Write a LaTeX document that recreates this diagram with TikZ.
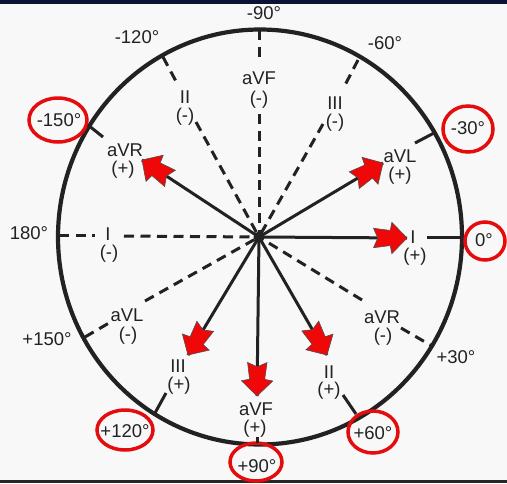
\documentclass[tikz,border=0pt]{standalone}
\usepackage{fontspec}
\setmainfont{Liberation Sans}
\usetikzlibrary{shapes.geometric}
\definecolor{ink}{RGB}{34,34,34}
\definecolor{paper}{RGB}{248,248,248}
\definecolor{navy}{RGB}{12,18,52}
\definecolor{ringred}{RGB}{228,12,12}
\definecolor{headred}{RGB}{240,8,8}
\begin{document}
\begin{tikzpicture}[x=1pt,y=-1pt,
  solidlead/.style={draw=ink, line width=3pt},
  neglead/.style={draw=ink, line width=3pt, dash pattern=on 10pt off 6.5pt},
  lbl/.style={text=ink, font=\fontsize{18.5}{21}\selectfont, inner sep=0pt},
  ringmark/.style={draw=ringred, line width=3.5pt, ellipse, inner sep=0pt},
  headshape/.style={fill=headred, draw=ink!80, line width=0.6pt, line join=miter}]
% background and frame
\fill[paper] (0,0) rectangle (507,483);
\fill[navy] (0,0) rectangle (507,3.5);
\fill[black!85] (0,479.5) rectangle (507,483);
\useasboundingbox (0,0) rectangle (507,483);

% main circle
\coordinate (O) at (260,237);
\draw[ink, line width=4.2pt] (O) ellipse [x radius=202pt, y radius=207.5pt];
\coordinate (C) at (259,237);

% ---------- degree labels ----------
\node[lbl] (dm90)  at (264,13)  {-90°};
\node[lbl] (dm120) at (137,37)  {-120°};
\node[lbl] (dm60)  at (385,43)  {-60°};
\node[lbl] (dm150) at (59,120)  {-150°};
\node[lbl] (dm30)  at (468,128) {-30°};
\node[lbl] (d0)    at (484,240) {0°};
\node[lbl] (d180)  at (29,233)  {180°};
\node[lbl] (dp150) at (47,339)  {+150°};
\node[lbl] (dp120) at (125,431) {+120°};
\node[lbl] (dp90)  at (257,466) {+90°};
\node[lbl] (dp60)  at (373,433) {+60°};
\node[lbl] (dp30)  at (456,357) {+30°};

% red rings
\node[ringmark, minimum width=58pt, minimum height=44pt] (r150) at (58,120) {};
\node[ringmark, minimum width=50pt, minimum height=46pt] (r30)  at (468,129) {};
\node[ringmark, minimum width=40pt, minimum height=38pt] (r0)   at (485,241) {};
\node[ringmark, minimum width=56pt, minimum height=40pt] (r120) at (125,430) {};
\node[ringmark, minimum width=52pt, minimum height=38pt] (r90)  at (256,462) {};
\node[ringmark, minimum width=50pt, minimum height=42pt] (r60)  at (373,432) {};

% ---------- lead labels ----------
% positive ends
\node[lbl] (Ip)    at (413,237) {I};
\node[lbl] (Ips)   at (415,257) {(+)};
\node[lbl] (aVLp)  at (400,156) {aVL};
\node[lbl] (aVLps) at (400,176) {(+)};
\node[lbl] (aVRp)  at (125,150) {aVR};
\node[lbl] (aVRps) at (123,170) {(+)};
\node[lbl] (aVFp)  at (256,409) {aVF};
\node[lbl] (aVFps) at (255,429) {(+)};
\node[lbl] (IIp)   at (329,372) {II};
\node[lbl] (IIps)  at (329,391) {(+)};
\node[lbl] (IIIp)  at (178,366) {III};
\node[lbl] (IIIps) at (179,386) {(+)};
% negative ends
\node[lbl] (Im)    at (108,234) {I};
\node[lbl] (Ims)   at (109,254) {(-)};
\node[lbl] (aVLm)  at (127,315) {aVL};
\node[lbl] (aVLms) at (128,336) {(-)};
\node[lbl] (aVRm)  at (382,317) {aVR};
\node[lbl] (aVRms) at (383,337) {(-)};
\node[lbl] (aVFm)  at (259,78)  {aVF};
\node[lbl] (aVFms) at (259,100) {(-)};
\node[lbl] (IIm)   at (185,97)  {II};
\node[lbl] (IIms)  at (185,117) {(-)};
\node[lbl] (IIIm)  at (335,103) {III};
\node[lbl] (IIIms) at (335,123) {(-)};

% ---------- tick segments at positive ends ----------
\coordinate (tIa) at (427,237);   \coordinate (tIb) at (460,237);
\coordinate (tLa) at (415,143);   \coordinate (tLb) at (434,133);
\coordinate (tRa) at (103,137);   \coordinate (tRb) at (88,125);
\coordinate (tFa) at (257,437);   \coordinate (tFb) at (257,443);
\coordinate (t2a) at (343,395);   \coordinate (t2b) at (356,414);
\coordinate (t3a) at (166,393);   \coordinate (t3b) at (155,413);
\draw[solidlead] (tIa) -- (tIb);
\draw[solidlead] (tLa) -- (tLb);
\draw[solidlead] (tRa) -- (tRb);
\draw[solidlead] (tFa) -- (tFb);
\draw[solidlead] (t2a) -- (t2b);
\draw[solidlead] (t3a) -- (t3b);

% ---------- dashed negative halves ----------
\coordinate (nIa) at (59,235);   \coordinate (nIb) at (95,235);  \coordinate (nIc) at (124,236);
\coordinate (nLa) at (85,337);   \coordinate (nLb) at (109,323); \coordinate (nLc) at (145,301);
\coordinate (nRa) at (432,346);  \coordinate (nRb) at (401,328); \coordinate (nRc) at (362,300);
\coordinate (nFa) at (259,30);   \coordinate (nFb) at (259,62);  \coordinate (nFc) at (259,114);
\coordinate (n2a) at (163,57);   \coordinate (n2b) at (178,85);  \coordinate (n2c) at (196,122);
\coordinate (n3a) at (358,60);   \coordinate (n3b) at (343,89);  \coordinate (n3c) at (323,124);
\draw[neglead] (nIa) -- (nIb);  \draw[neglead] (nIc) -- (C);
\draw[neglead] (nLa) -- (nLb);  \draw[neglead] (nLc) -- (C);
\draw[neglead] (nRb) -- (nRa);  \draw[neglead] (nRc) -- (C);
\draw[neglead] (nFa) -- (nFb);  \draw[neglead] (nFc) -- (C);
\draw[neglead] (n2a) -- (n2b);  \draw[neglead] (n2c) -- (C);
\draw[neglead] (n3a) -- (n3b);  \draw[neglead] (n3c) -- (C);

% ---------- positive arrows ----------
\coordinate (hI) at (407,238);
\coordinate (hL) at (383,163);
\coordinate (hR) at (142,160);
\coordinate (hF) at (257,396);
\coordinate (h2) at (327,355);
\coordinate (h3) at (188,355);
\foreach \h in {hI,hL,hR,hF,h2,h3}{\draw[solidlead] (C) -- (\h);}
\fill[ink] (C) circle (5.5pt);
\foreach \h/\a in {hI/0, hL/30.8, hR/146.7, hF/-90.5, h2/-60, h3/-121}{
  \draw[headshape, shift={(\h)}, rotate=\a, scale=1.08]
    (0,0) -- (-14,-14.5) -- (-15.5,-7) -- (-31,-9) -- (-27,0) -- (-31,9)
    -- (-15.5,7) -- (-14,14.5) -- cycle;
}
\end{tikzpicture}
\end{document}
